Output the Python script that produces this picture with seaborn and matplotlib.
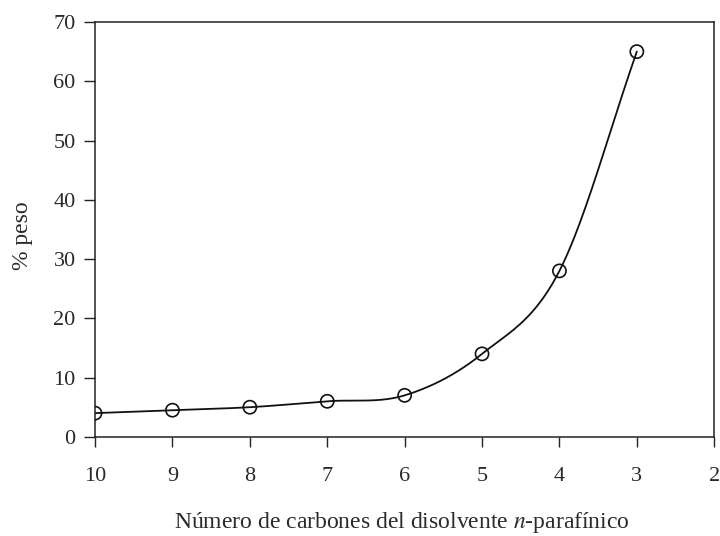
import numpy as np
import pandas as pd
import matplotlib
matplotlib.use("Agg")
import matplotlib.pyplot as plt
import seaborn as sns

# Carbon number of the n-paraffin solvent and precipitated weight percent
carbons = [10, 9, 8, 7, 6, 5, 4, 3]
peso = [4.0, 4.5, 5.0, 6.0, 7.0, 14.0, 28.0, 65.0]
x_ticks = [10, 9, 8, 7, 6, 5, 4, 3, 2]
y_ticks = [0, 10, 20, 30, 40, 50, 60, 70]

sns.set_theme(style="ticks")
plt.rcParams["font.family"] = ["Liberation Serif", "DejaVu Serif"]
plt.rcParams["mathtext.fontset"] = "stix"

TEXT = "#2a2a2a"


def smooth_curve(xs, ys, xspan, yspan, n=40):
    """Catmull-Rom spline through the points, computed in scaled axis units."""
    px = np.asarray(xs, float) / xspan
    py = np.asarray(ys, float) / yspan
    P = np.column_stack([px, py])
    P = np.vstack([P[0] - (P[1] - P[0]), P, P[-1] + (P[-1] - P[-2])])
    out = []
    t = np.linspace(0, 1, n)[:, None]
    for i in range(1, len(P) - 2):
        p0, p1, p2, p3 = P[i - 1], P[i], P[i + 1], P[i + 2]
        seg = 0.5 * ((2 * p1) + (-p0 + p2) * t + (2 * p0 - 5 * p1 + 4 * p2 - p3) * t ** 2
                     + (-p0 + 3 * p1 - 3 * p2 + p3) * t ** 3)
        out.append(seg if i == 1 else seg[1:])
    out = np.vstack(out)
    return out[:, 0] * xspan, out[:, 1] * yspan


fig = plt.figure(figsize=(7.2, 5.36), dpi=100)
ax = fig.add_axes([0.132, 0.185, 0.860, 0.774])

cx, cy = smooth_curve(carbons, peso, 8.0, 70.0)
curve = pd.DataFrame({"c": cx, "p": cy})
pts = pd.DataFrame({"c": carbons, "p": peso})

sns.lineplot(data=curve, x="c", y="p", sort=False, estimator=None,
             color="#111111", linewidth=1.3, ax=ax)
sns.scatterplot(data=pts, x="c", y="p", marker="o", s=90,
                facecolor="none", edgecolor="#111111", linewidth=1.2, ax=ax, zorder=3)

ax.set_xlim(10, 2)
ax.set_ylim(0, 70)
ax.set_xticks(x_ticks)
ax.set_yticks(y_ticks)
ax.tick_params(axis="both", direction="out", colors="#222222", labelcolor=TEXT,
               labelsize=16, width=1.0)
ax.tick_params(axis="x", length=7, pad=15)
ax.tick_params(axis="y", length=8, pad=6)
for s in ax.spines.values():
    s.set_color("#222222")
    s.set_linewidth(1.1)

ax.set_xlabel(r"Número de carbones del disolvente $\mathit{n}$-parafínico",
              fontsize=17, color=TEXT)
ax.set_ylabel("% peso", fontsize=17, color=TEXT)
ax.xaxis.set_label_coords(0.495, -0.176)
ax.yaxis.set_label_coords(-0.100, 0.484)

fig.savefig("out.png", dpi=100, facecolor="white")
